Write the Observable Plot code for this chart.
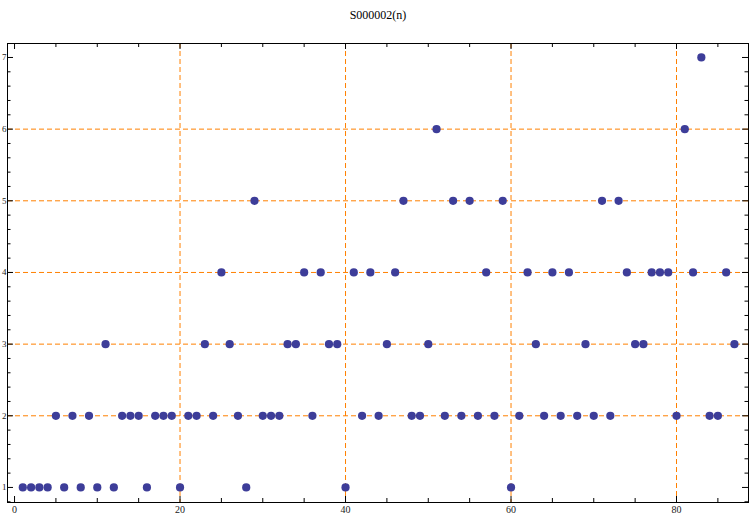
<!DOCTYPE html>
<html>
<head>
<meta charset="utf-8">
<script src="https://cdn.jsdelivr.net/npm/d3@7"></script>
<script src="https://cdn.jsdelivr.net/npm/@observablehq/plot@0.6"></script>
<style>
  html, body { margin: 0; padding: 0; background: #fff; }
  #chart svg { display: block; }
</style>
</head>
<body>
<div id="chart"></div>
<script>
const title = "S000002(n)";
const values = [
  1,1,1,1,2,1,2,1,2,1,
  3,1,2,2,2,1,2,2,2,1,
  2,2,3,2,4,3,2,1,5,2,
  2,2,3,3,4,2,4,3,3,1,
  4,2,4,2,3,4,5,2,2,3,
  6,2,5,2,5,2,4,2,5,1,
  2,4,3,2,4,2,4,2,3,2,
  5,2,5,4,3,3,4,4,4,2,
  6,4,7,2,2,4,3
];
const xMajor = [0, 20, 40, 60, 80];
const xMinor = [5, 10, 15, 25, 30, 35, 45, 50, 55, 65, 70, 75, 85];
const yMajor = [1, 2, 3, 4, 5, 6, 7];
const yMinor = [0.8, 1.2, 1.4, 1.6, 1.8, 2.2, 2.4, 2.6, 2.8, 3.2, 3.4, 3.6, 3.8,
                4.2, 4.4, 4.6, 4.8, 5.2, 5.4, 5.6, 5.8, 6.2, 6.4, 6.6, 6.8];
const xGrid = [20, 40, 60, 80];
const yGrid = [2, 3, 4, 5, 6];

const data = values.map((v, i) => ({n: i + 1, v}));

const W = 750, H = 515;
const mL = 7, mR = 2, mT = 43, mB = 13;
const fw = W - mL - mR, fh = H - mT - mB;
const gridColor = "#ff8000";
const dash = "5,3";
const serif = "'Liberation Serif', 'DejaVu Serif', serif";

const chart = Plot.plot({
  width: W,
  height: H,
  marginLeft: mL,
  marginRight: mR,
  marginTop: mT,
  marginBottom: mB,
  style: {fontFamily: serif, background: "#fff"},
  x: {domain: [-0.85, 88.7]},
  y: {domain: [0.79, 7.195]},
  marks: [
    Plot.ruleX(xGrid, {x: d => d, stroke: gridColor, strokeWidth: 1, strokeDasharray: dash}),
    Plot.ruleY(yGrid, {y: d => d, stroke: gridColor, strokeWidth: 1, strokeDasharray: dash}),
    // inward ticks: bottom & top
    Plot.ruleX(xMinor, {x: d => d, stroke: "#000", insetTop: fh - 4}),
    Plot.ruleX(xMinor, {x: d => d, stroke: "#000", insetBottom: fh - 4}),
    Plot.ruleX(xMajor, {x: d => d, stroke: "#000", insetTop: fh - 6}),
    Plot.ruleX(xMajor, {x: d => d, stroke: "#000", insetBottom: fh - 6}),
    // inward ticks: left & right
    Plot.ruleY(yMinor, {y: d => d, stroke: "#000", insetRight: fw - 3.5}),
    Plot.ruleY(yMinor, {y: d => d, stroke: "#000", insetLeft: fw - 3.5}),
    Plot.ruleY(yMajor, {y: d => d, stroke: "#000", insetRight: fw - 6}),
    Plot.ruleY(yMajor, {y: d => d, stroke: "#000", insetLeft: fw - 6}),
    Plot.axisX({ticks: xMajor, tickFormat: d => String(d), tickSize: 0, tickPadding: 3, fontSize: 10, label: null, fill: "#222"}),
    Plot.axisY({ticks: yMajor, tickFormat: d => String(d), tickSize: 0, tickPadding: 1, fontSize: 9, label: null, fill: "#222"}),
    Plot.dot(data, {x: "n", y: "v", r: 4.1, fill: "#3d3d99", stroke: "none"}),
    Plot.frame({stroke: "#000", strokeWidth: 1}),
    Plot.text([title], {frameAnchor: "top", dy: -28, lineAnchor: "middle", fontSize: 12, fill: "#000"})
  ]
});
document.getElementById("chart").appendChild(chart);
</script>
</body>
</html>
